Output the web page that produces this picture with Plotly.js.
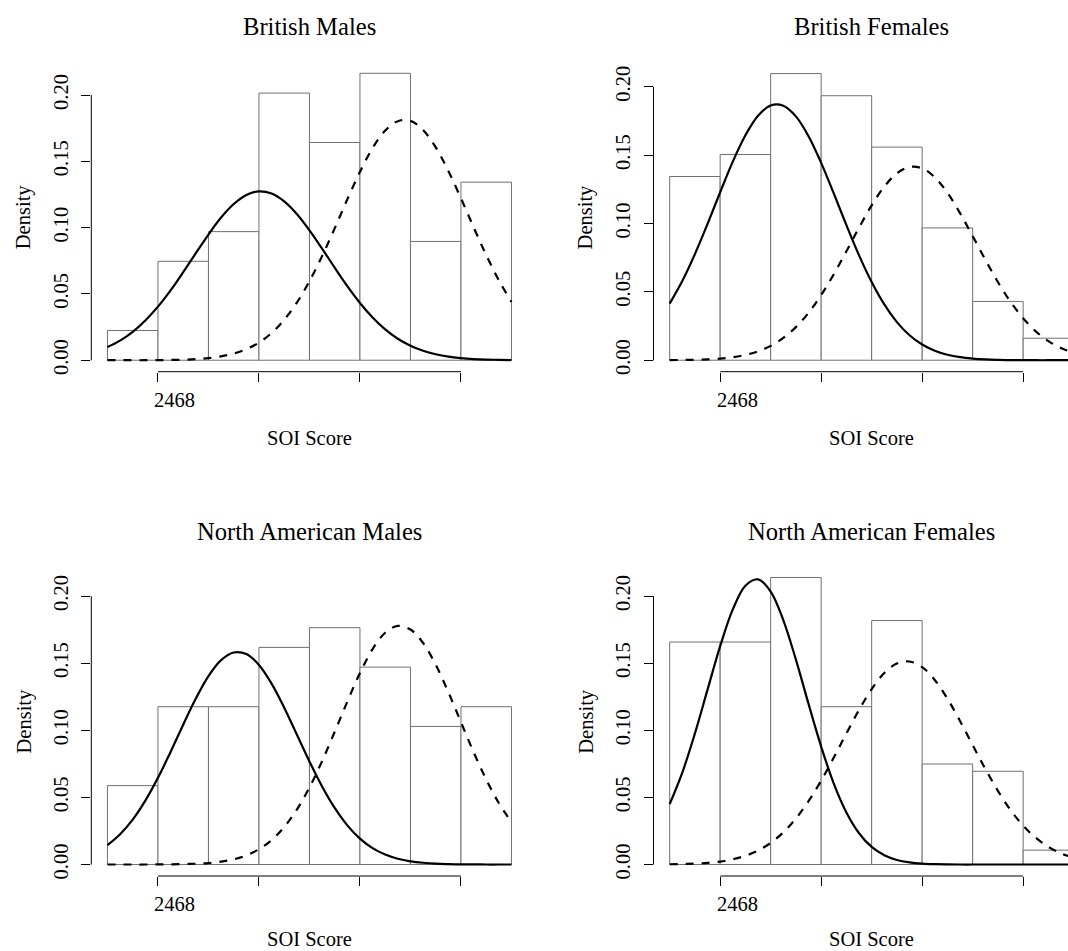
<!DOCTYPE html>
<html>
<head>
<meta charset="utf-8">
<script src="https://cdn.plot.ly/plotly-3.0.1.min.js"></script>
<style>
html,body{margin:0;padding:0;background:#ffffff;overflow:hidden;}
#chart{width:1068px;height:951px;}
</style>
</head>
<body>
<div id="chart"></div>
<script>
// ---------------- data ----------------
const panelTitles = ["British Males", "British Females", "North American Males", "North American Females"];
const xAxisTitle = "SOI Score";
const yAxisTitle = "Density";

// histogram bins (midpoints of bins of width 1 from 1 to 9)
const binMids = [1.5, 2.5, 3.5, 4.5, 5.5, 6.5, 7.5, 8.5];

// histogram densities
const britishMalesDensity   = [0.0224, 0.0746, 0.0970, 0.2015, 0.1642, 0.2164, 0.0896, 0.1343];
const britishFemalesDensity = [0.1344, 0.1505, 0.2097, 0.1935, 0.1559, 0.0968, 0.0430, 0.0161];
const naMalesDensity        = [0.0588, 0.1176, 0.1176, 0.1618, 0.1765, 0.1471, 0.1029, 0.1176];
const naFemalesDensity      = [0.1658, 0.1658, 0.2139, 0.1176, 0.1818, 0.0749, 0.0695, 0.0107];

// curve sample positions
const curveX = [1, 1.25, 1.5, 1.75, 2, 2.25, 2.5, 2.75, 3, 3.25, 3.5, 3.75, 4, 4.25, 4.5, 4.75, 5,
                5.25, 5.5, 5.75, 6, 6.25, 6.5, 6.75, 7, 7.25, 7.5, 7.75, 8, 8.25, 8.5, 8.75, 9];

// solid and dashed curves
const britishMalesSolid    = [0.0099,0.0148,0.0214,0.0300,0.0404,0.0527,0.0664,0.0807,0.0948,0.1076,0.1178,0.1247,0.1274,0.1257,0.1198,0.1103,0.0980,0.0842,0.0698,0.0559,0.0432,0.0323,0.0233,0.0162,0.0109,0.0071,0.0045,0.0027,0.0016,0.0009,0.0005,0.0003,0.0001];
const britishMalesDashed   = [0.0000,0.0000,0.0000,0.0000,0.0001,0.0002,0.0004,0.0008,0.0016,0.0029,0.0050,0.0083,0.0133,0.0205,0.0305,0.0434,0.0596,0.0785,0.0995,0.1213,0.1421,0.1600,0.1732,0.1803,0.1805,0.1736,0.1606,0.1428,0.1221,0.1004,0.0793,0.0603,0.0440];
const britishFemalesSolid  = [0.0414,0.0579,0.0776,0.0997,0.1229,0.1453,0.1646,0.1789,0.1864,0.1862,0.1784,0.1639,0.1444,0.1220,0.0988,0.0767,0.0572,0.0408,0.0279,0.0183,0.0115,0.0070,0.0040,0.0022,0.0012,0.0006,0.0003,0.0001,0.0001,0.0000,0.0000,0.0000,0.0000];
const britishFemalesDashed = [0.0001,0.0002,0.0003,0.0006,0.0012,0.0022,0.0039,0.0065,0.0105,0.0163,0.0242,0.0347,0.0477,0.0629,0.0797,0.0970,0.1133,0.1270,0.1368,0.1414,0.1404,0.1338,0.1225,0.1076,0.0908,0.0736,0.0572,0.0427,0.0307,0.0211,0.0140,0.0089,0.0054];
const naMalesSolid         = [0.0145,0.0226,0.0335,0.0476,0.0646,0.0839,0.1042,0.1237,0.1404,0.1523,0.1580,0.1568,0.1487,0.1348,0.1169,0.0969,0.0768,0.0582,0.0422,0.0292,0.0193,0.0122,0.0074,0.0043,0.0024,0.0013,0.0006,0.0003,0.0001,0.0001,0.0000,0.0000,0.0000];
const naMalesDashed        = [0.0000,0.0000,0.0000,0.0000,0.0001,0.0001,0.0003,0.0006,0.0011,0.0021,0.0039,0.0068,0.0114,0.0182,0.0279,0.0409,0.0574,0.0770,0.0989,0.1214,0.1427,0.1605,0.1727,0.1778,0.1751,0.1651,0.1489,0.1285,0.1061,0.0838,0.0634,0.0458,0.0317];
const naFemalesSolid       = [0.0450,0.0685,0.0977,0.1303,0.1627,0.1901,0.2078,0.2125,0.2034,0.1822,0.1527,0.1197,0.0879,0.0603,0.0388,0.0233,0.0131,0.0069,0.0034,0.0016,0.0007,0.0003,0.0001,0.0000,0.0000,0.0000,0.0000,0.0000,0.0000,0.0000,0.0000,0.0000,0.0000];
const naFemalesDashed      = [0.0002,0.0003,0.0007,0.0012,0.0022,0.0039,0.0065,0.0104,0.0161,0.0239,0.0343,0.0472,0.0625,0.0797,0.0977,0.1152,0.1307,0.1427,0.1498,0.1513,0.1471,0.1375,0.1236,0.1069,0.0890,0.0713,0.0549,0.0406,0.0290,0.0199,0.0131,0.0083,0.0051];

// tick labels
const xTickVals = [2, 4, 6, 8];
const xTickText = ["2468", "", "", ""];
const yTickVals = [0, 0.05, 0.10, 0.15, 0.20];
const yTickText = ["0.00", "0.05", "0.10", "0.15", "0.20"];

// ---------------- layout geometry ----------------
const W = 1068, H = 951;
const FONT = "Liberation Serif, Times New Roman, serif";
const PX_PER_UNIT = 50.5;
const X_LO = 0.68, X_HI = 9.32;
const colLeftPx = [91.3, 653.5];
const rowBottomPx = [371.7, 876.0];
const PLOT_H = 310;
const yLimits = [0.2165, 0.21, 0.2139, 0.2139];
const xTitleCenterPx = [438.1, 939.4];

const panels = [
  {title: panelTitles[0], dens: britishMalesDensity,   solid: britishMalesSolid,   dashed: britishMalesDashed,   col: 0, row: 0},
  {title: panelTitles[1], dens: britishFemalesDensity, solid: britishFemalesSolid, dashed: britishFemalesDashed, col: 1, row: 0},
  {title: panelTitles[2], dens: naMalesDensity,        solid: naMalesSolid,        dashed: naMalesDashed,        col: 0, row: 1},
  {title: panelTitles[3], dens: naFemalesDensity,      solid: naFemalesSolid,      dashed: naFemalesDashed,      col: 1, row: 1}
];

const traces = [];
const layout = {
  width: W, height: H,
  margin: {l: 0, r: 0, t: 0, b: 0, pad: 0},
  paper_bgcolor: "#ffffff",
  plot_bgcolor: "#ffffff",
  showlegend: false,
  bargap: 0,
  font: {family: FONT, color: "#000000", size: 20.5},
  annotations: [],
  shapes: []
};

panels.forEach((p, i) => {
  const n = i + 1;
  const xa = n === 1 ? "x" : "x" + n;
  const ya = n === 1 ? "y" : "y" + n;
  const xKey = n === 1 ? "xaxis" : "xaxis" + n;
  const yKey = n === 1 ? "yaxis" : "yaxis" + n;

  const leftPx = colLeftPx[p.col];
  const rightPx = Math.min(leftPx + (X_HI - X_LO) * PX_PER_UNIT, W);
  const xHi = X_LO + (rightPx - leftPx) / PX_PER_UNIT;
  const bottomPx = rowBottomPx[p.row];
  const topPx = bottomPx - PLOT_H;
  const ymax = yLimits[i];

  layout[xKey] = {
    domain: [leftPx / W, rightPx / W],
    range: [X_LO, xHi],
    anchor: ya,
    showgrid: false, zeroline: false, showline: false,
    ticks: "outside", ticklen: 9, tickwidth: 1, tickcolor: "#000000",
    tickmode: "array", tickvals: xTickVals, ticktext: xTickText,
    showticklabels: false,
    fixedrange: true
  };
  layout[yKey] = {
    domain: [1 - bottomPx / H, 1 - topPx / H],
    range: [-0.04 * ymax, 1.04 * ymax],
    anchor: xa,
    showgrid: false, zeroline: false, showline: false,
    ticks: "outside", ticklen: 9, tickwidth: 1, tickcolor: "#000000",
    tickmode: "array", tickvals: yTickVals, ticktext: yTickText,
    tickangle: -90,
    tickfont: {family: FONT, size: 20.5, color: "#000000"},
    ticklabelstandoff: 5,
    fixedrange: true
  };

  traces.push({
    type: "bar", x: binMids, y: p.dens, width: 1,
    xaxis: xa, yaxis: ya,
    marker: {color: "#ffffff", line: {color: "#707070", width: 1}},
    hoverinfo: "skip"
  });
  traces.push({
    type: "scatter", mode: "lines", x: curveX, y: p.solid,
    xaxis: xa, yaxis: ya,
    line: {color: "#000000", width: 2.2, shape: "spline", smoothing: 1},
    hoverinfo: "skip"
  });
  traces.push({
    type: "scatter", mode: "lines", x: curveX, y: p.dashed,
    xaxis: xa, yaxis: ya,
    line: {color: "#000000", width: 2.2, dash: "8px,8px", shape: "spline", smoothing: 1},
    hoverinfo: "skip"
  });

  // R-style axis lines spanning only the tick range
  layout.shapes.push({
    type: "line", xref: xa + " domain", yref: ya,
    x0: 0, x1: 0, y0: yTickVals[0], y1: yTickVals[yTickVals.length - 1],
    line: {color: "#000000", width: 1}
  });
  layout.shapes.push({
    type: "line", xref: xa, yref: ya + " domain",
    x0: xTickVals[0], x1: xTickVals[xTickVals.length - 1], y0: 0, y1: 0,
    line: {color: "#000000", width: 1}
  });

  // x tick labels (drawn starting just left of their tick, as in the reference)
  xTickVals.forEach((v, k) => {
    if (!xTickText[k]) return;
    layout.annotations.push({
      text: xTickText[k], xref: xa, yref: ya + " domain",
      x: v, y: 0, xanchor: "left", yanchor: "top",
      xshift: -5.5, yshift: -15, showarrow: false,
      font: {family: FONT, size: 20.5, color: "#000000"}
    });
  });

  const centerPx = leftPx + (X_HI - X_LO) * PX_PER_UNIT / 2;
  const rowShift = p.row === 0 ? 0 : (rowBottomPx[1] - rowBottomPx[0]);
  // panel title
  layout.annotations.push({
    text: p.title, xref: "paper", yref: "paper",
    x: centerPx / W, y: 1 - (26.7 + rowShift) / H,
    xanchor: "center", yanchor: "middle", showarrow: false,
    font: {family: FONT, size: 24.6, color: "#000000"}
  });
  // x axis title
  layout.annotations.push({
    text: xAxisTitle, xref: "paper", yref: "paper",
    x: centerPx / W, y: 1 - xTitleCenterPx[p.row] / H,
    xanchor: "center", yanchor: "middle", showarrow: false,
    font: {family: FONT, size: 20.5, color: "#000000"}
  });
  // y axis title
  layout.annotations.push({
    text: yAxisTitle, xref: "paper", yref: "paper",
    x: (leftPx - 67.8) / W, y: 1 - (bottomPx - PLOT_H / 2) / H,
    xanchor: "center", yanchor: "middle", showarrow: false, textangle: -90,
    font: {family: FONT, size: 20.5, color: "#000000"}
  });
});

Plotly.newPlot("chart", traces, layout, {displayModeBar: false, staticPlot: true});
</script>
</body>
</html>
